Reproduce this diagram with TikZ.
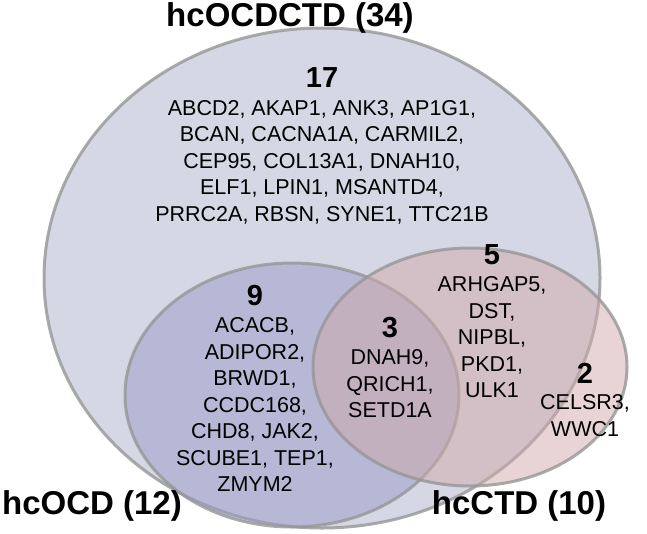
\documentclass[tikz,border=0pt]{standalone}
\usepackage{fontspec}
\setmainfont{Liberation Sans}
\usetikzlibrary{positioning}
\definecolor{allfill}{RGB}{213,216,228}
\definecolor{ocdfill}{RGB}{153,154,200}
\definecolor{ctdfill}{RGB}{209,169,169}
\definecolor{rimgray}{RGB}{150,150,150}
\begin{document}
\begin{tikzpicture}[x=1pt, y=-1pt,
        set/.style={draw=rimgray, line width=3pt, draw opacity=0.8},
        genes/.style={align=center, font=\fontsize{21.5}{26.5}\selectfont, inner sep=0pt},
        count/.style={font=\fontsize{29}{29}\selectfont\bfseries, inner sep=0pt},
        title/.style={font=\fontsize{33}{33}\selectfont\bfseries, inner sep=0pt}
    ]
        \useasboundingbox (0,0) rectangle (647,533);

        % Sets
        \draw[set, fill=allfill] (322,278) ellipse [x radius=278, y radius=250];
        \draw[set, fill=ocdfill, fill opacity=0.5] (292,395) ellipse [x radius=167, y radius=132];
        \draw[set, fill=ctdfill, fill opacity=0.5] (470,367) ellipse [x radius=157, y radius=119];

        % Titles
        \node[title] (tall) at (290,18) {hcOCDCTD (34)};
        \node[title] (tocd) at (92,506) {hcOCD (12)};
        \node[title] (tctd) at (519,506) {hcCTD (10)};

        % Counts and genes
        \node[count] (nall) at (322,78) {17};
        \node[genes, below=12pt of nall] (gall) {ABCD2, AKAP1, ANK3, AP1G1,\\
            BCAN, CACNA1A, CARMIL2,\\
            CEP95, COL13A1, DNAH10,\\
            ELF1, LPIN1, MSANTD4,\\
            PRRC2A, RBSN, SYNE1, TTC21B};

        \node[count] (nocd) at (255,296) {9};
        \node[genes, below=11pt of nocd] (gocd) {ACACB,\\ ADIPOR2,\\ BRWD1,\\ CCDC168,\\
            CHD8, JAK2,\\ SCUBE1, TEP1,\\ ZMYM2};

        \node[count] (nboth) at (390,328) {3};
        \node[genes, below=11pt of nboth] (gboth) {DNAH9,\\ QRICH1,\\ SETD1A};

        \node[count] (nallctd) at (492,255) {5};
        \node[genes, below=11pt of nallctd] (gallctd) {ARHGAP5,\\ DST,\\ NIPBL,\\ PKD1,\\ ULK1};

        \node[count] (nctd) at (585,373) {2};
        \node[genes, below=11pt of nctd] (gctd) {CELSR3,\\ WWC1};
    \end{tikzpicture}
\end{document}
